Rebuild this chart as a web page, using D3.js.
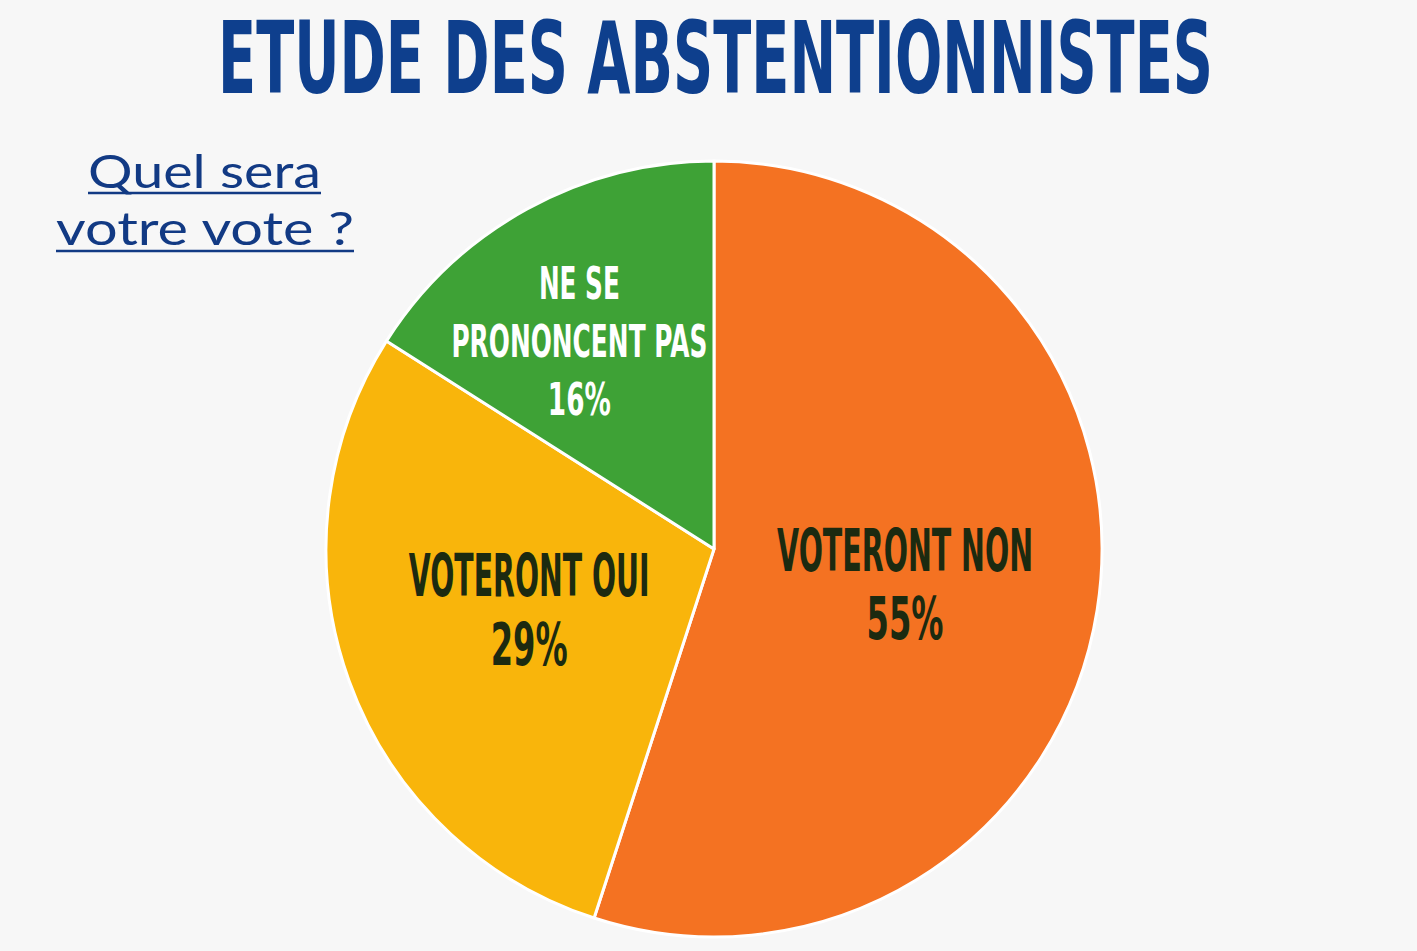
<!DOCTYPE html>
<html><head><meta charset="utf-8">
<script src="https://cdn.jsdelivr.net/npm/d3@7"></script>
<style>html,body{margin:0;padding:0;background:#f7f7f7;}svg{display:block;}</style>
</head><body>
<svg id="c" width="1417" height="951"></svg>
<script>
const categories = ["VOTERONT NON", "VOTERONT OUI", "NE SE PRONONCENT PAS"];
const values = [55, 29, 16];
const labelLines = [["VOTERONT NON", "55%"], ["VOTERONT OUI", "29%"], ["NE SE", "PRONONCENT PAS", "16%"]];
const titleText = "ETUDE DES ABSTENTIONNISTES";
const subtitleLines = ["Quel sera", "votre vote ?"];

const svg = d3.select("#c");
const W = 1417, H = 951;
svg.append("rect").attr("width", W).attr("height", H).attr("fill", "#f7f7f7");

const colors = d3.scaleOrdinal().domain(categories).range(["#f47222", "#f9b50b", "#3ea236"]);
const textColors = ["#1c2a10", "#1c2a10", "#ffffff"];
const cx = 714, cy = 549, R = 388;

// place text horizontally scaled so it spans targetW, centred on xc, baseline y
function fitText(parent, str, xc, y, targetW, font) {
  const t = parent.append("text").attr("x", 0).attr("y", 0)
    .attr("text-anchor", "middle")
    .attr("font-family", font.family).attr("font-weight", font.weight || "normal")
    .attr("font-size", font.size).attr("fill", font.fill).text(str);
  const w = t.node().getComputedTextLength();
  const sx = targetW / w;
  t.attr("transform", `translate(${xc},${y}) scale(${sx},1)`);
  return t;
}

// Title
fitText(svg, titleText, (218 + 1213) / 2, 93, 995,
  {family: "DejaVu Sans", weight: "bold", size: 99, fill: "#0e3f8d"});

// Subtitle
const subSpecs = [{y: 188, x0: 88, w: 233, uy: 193}, {y: 245, x0: 56, w: 298, uy: 251}];
subtitleLines.forEach((t, i) => {
  const s = subSpecs[i];
  fitText(svg, t, s.x0 + s.w / 2, s.y, s.w,
    {family: "Lato, 'Open Sans', sans-serif", size: 46, fill: "#123a84"});
  svg.append("line").attr("x1", s.x0).attr("x2", s.x0 + s.w).attr("y1", s.uy).attr("y2", s.uy)
    .attr("stroke", "#123a84").attr("stroke-width", 2.5);
});

// Pie
const pie = d3.pie().sort(null).value(d => d.v);
const data = pie(categories.map((c, i) => ({c, v: values[i], lines: labelLines[i], i})));
const arc = d3.arc().innerRadius(0).outerRadius(R);
const g = svg.append("g").attr("transform", `translate(${cx},${cy})`);
g.selectAll("path").data(data).join("path")
  .attr("d", arc).attr("fill", d => colors(d.data.c))
  .attr("stroke", "#ffffff").attr("stroke-width", 3).attr("stroke-linejoin", "round");

// Labels
const labelStyle = [
  {rf: 0.5, af: 0.505, cap: 45, fs: 58, step: 68, widths: [256, 77]},
  {rf: 0.5, af: 0.52, cap: 44, fs: 58, step: 69, widths: [241, 77]},
  {rf: 0.64, af: 0.43, cap: 33, fs: 45, step: 58, widths: [81, 256, 63]}
];
data.forEach((d, i) => {
  const st = labelStyle[i];
  const a = d.startAngle + st.af * (d.endAngle - d.startAngle);
  const la = d3.arc().innerRadius(R * st.rf).outerRadius(R * st.rf);
  const [lx, ly] = la.centroid({startAngle: a, endAngle: a});
  const n = d.data.lines.length;
  const block = st.cap + st.step * (n - 1);
  d.data.lines.forEach((t, j) => {
    fitText(g, t, lx, ly - block / 2 + st.cap + j * st.step, st.widths[j],
      {family: "DejaVu Sans", weight: "bold", size: st.fs, fill: textColors[i]});
  });
});
</script>
</body></html>
